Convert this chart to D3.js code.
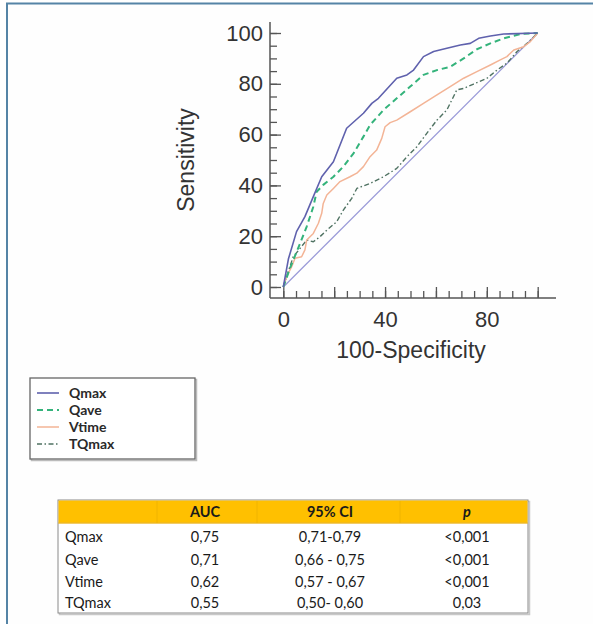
<!DOCTYPE html>
<html>
<head>
<meta charset="utf-8">
<script src="https://cdn.jsdelivr.net/npm/d3@7"></script>
<style>
  html, body { margin: 0; padding: 0; background: #ffffff; }
  svg { display: block; }
</style>
</head>
<body>
<svg id="chart" width="593" height="624"></svg>
<script>
// ---- data ----
const seriesNames = ["Qmax", "Qave", "Vtime", "TQmax"];
const qmax = [[0,0],[2,11],[5.2,21.8],[8.5,27.7],[11.8,35.6],[15.1,43.4],[19.7,49.3],[24.9,62.5],[31.5,68.4],[34.8,72.3],[37.4,74.3],[44.6,82.2],[48.6,83.5],[51.2,85.4],[55.1,90.7],[59.1,92.7],[64.3,94],[69.6,95.3],[73.5,95.9],[76.8,97.9],[81.4,98.8],[86.6,99.6],[100,100]];
const qave = [[0,0],[2.6,7.3],[6.6,17.2],[9.2,23.8],[11.8,31.6],[13.1,37.5],[15.7,40.2],[19.7,43.4],[23.6,47.4],[27.6,52.6],[31.5,59.2],[34.1,63.8],[39.4,69.7],[44.6,74.3],[49.9,78.9],[55.1,83.5],[60.4,85.4],[65.6,86.7],[70.9,90],[76.1,93.6],[81.4,95.9],[86.6,97.9],[93.2,99.6],[100,100]];
const vtime = [[0,0],[1.3,4.1],[3.3,8],[4.6,11.3],[7.2,11.9],[8.5,14.6],[9.2,18.5],[11.8,21.1],[13.8,25.1],[15.1,29],[15.7,32.9],[17.1,36.2],[19.7,38.8],[22.3,41.5],[26.2,43.4],[28.9,44.8],[31.5,47.4],[34.1,51.3],[36.7,53.9],[38.7,58.5],[40,63.1],[42,64.7],[44.6,65.7],[49.9,69],[55.1,72.3],[60.4,75.6],[65.6,78.9],[70.9,82.2],[76.1,84.8],[81.4,87.4],[85.3,89.4],[87.9,90.7],[90.6,93.3],[94.5,94.6],[97.1,96.6],[100,100]];
const tqmax = [[0,0],[1.3,4.1],[3.9,11.9],[6.6,15.2],[9.2,18.5],[11.8,17.8],[14.4,19.8],[17.1,22.4],[21,25.7],[23.6,30.3],[26.9,34.9],[28.9,38.8],[34.1,40.8],[39.4,43.4],[44.6,46.7],[48.6,51.3],[52.5,55.2],[56.4,60.5],[60.4,65.7],[64.3,69.7],[68.2,77.6],[70.9,78.2],[74.8,79.9],[80.1,82.2],[84,85.4],[87.9,88.1],[91.9,92.7],[95.8,95.9],[100,100]];
const diagonal = [[0,0],[100,100]];

const xMinorTicks = d3.range(0, 101, 5);
const xMajorTicks = [0, 20, 40, 60, 80, 100];
const xLabelTicks = [0, 40, 80];
const yMinorTicks = d3.range(0, 101, 5);
const yMajorTicks = [0, 20, 40, 60, 80, 100];

const tableHeader = ["", "AUC", "95% CI", "p"];
const tableLabels = ["Qmax", "Qave", "Vtime", "TQmax"];
const aucValues = ["0,75", "0,71", "0,62", "0,55"];
const ciValues = ["0,71-0,79", "0,66 - 0,75", "0,57 - 0,67", "0,50- 0,60"];
const pValues = ["<0,001", "<0,001", "<0,001", "0,03"];

// ---- styles ----
const styles = {
  Qmax:  { color: "#5f61ad", width: 1.6, dash: null },
  Qave:  { color: "#34b37b", width: 2, dash: "6,4" },
  Vtime: { color: "#f3b496", width: 1.5, dash: null },
  TQmax: { color: "#4f7262", width: 1.4, dash: "5,2.5,1.5,2.5" },
  diag:  { color: "#9a9ad8", width: 1.3, dash: null }
};

const svg = d3.select("#chart");

// outer frame
svg.append("rect").attr("x", 7).attr("y", 3.5).attr("width", 640).attr("height", 680)
  .attr("fill", "#fefefe").attr("stroke", "#5584a6").attr("stroke-width", 2);

// ---- scales ----
const x = d3.scaleLinear().domain([0, 100]).range([283.3, 537.7]);
const y = d3.scaleLinear().domain([0, 100]).range([287, 33]);
const axisX0 = 270, axisY0 = 298;
const axisColor = "#555";
const textColor = "#333";
const axisFont = "'Liberation Sans', Arial, sans-serif";

// axis lines
svg.append("line").attr("x1", axisX0).attr("x2", axisX0).attr("y1", 22).attr("y2", axisY0)
  .attr("stroke", axisColor).attr("stroke-width", 1.5);
svg.append("line").attr("x1", axisX0).attr("x2", 556).attr("y1", axisY0).attr("y2", axisY0)
  .attr("stroke", axisColor).attr("stroke-width", 1.5);

function styleAxis(g) {
  g.select(".domain").remove();
  g.selectAll(".tick line").attr("stroke", axisColor).attr("stroke-width", 1.3);
  g.selectAll(".tick text").attr("fill", textColor).attr("font-family", axisFont).attr("font-size", 22);
}

// y axis
svg.append("g").attr("transform", `translate(${axisX0},0)`)
  .call(d3.axisLeft(y).tickValues(yMinorTicks).tickSize(-7).tickFormat(""))
  .call(styleAxis);
svg.append("g").attr("transform", `translate(${axisX0},0)`)
  .call(d3.axisLeft(y).tickValues(yMajorTicks).tickSize(-11).tickPadding(7).tickFormat(d3.format("d")))
  .call(styleAxis);

// x axis
svg.append("g").attr("transform", `translate(0,${axisY0})`)
  .call(d3.axisBottom(x).tickValues(xMinorTicks).tickSize(-7).tickFormat(""))
  .call(styleAxis);
svg.append("g").attr("transform", `translate(0,${axisY0})`)
  .call(d3.axisBottom(x).tickValues(xMajorTicks).tickSize(-11).tickPadding(13)
    .tickFormat(d => xLabelTicks.includes(d) ? d3.format("d")(d) : ""))
  .call(styleAxis);

// axis titles
svg.append("text").attr("transform", "translate(194,160) rotate(-90)")
  .attr("text-anchor", "middle").attr("font-family", axisFont).attr("font-size", 23)
  .attr("fill", textColor).text("Sensitivity");
svg.append("text").attr("x", 411).attr("y", 358)
  .attr("text-anchor", "middle").attr("font-family", axisFont).attr("font-size", 23)
  .attr("fill", textColor).text("100-Specificity");

// ---- curves ----
const line = d3.line().x(d => x(d[0])).y(d => y(d[1]));
function drawCurve(data, st) {
  svg.append("path").datum(data).attr("d", line).attr("fill", "none")
    .attr("stroke", st.color).attr("stroke-width", st.width)
    .attr("stroke-dasharray", st.dash).attr("stroke-linejoin", "round");
}
drawCurve(diagonal, styles.diag);
drawCurve(tqmax, styles.TQmax);
drawCurve(vtime, styles.Vtime);
drawCurve(qave, styles.Qave);
drawCurve(qmax, styles.Qmax);

// ---- legend ----
const legFont = "Lato, 'Open Sans', sans-serif";
svg.append("rect").attr("x", 31.5).attr("y", 379.5).attr("width", 165).attr("height", 81)
  .attr("fill", "none").attr("stroke", "#bbb").attr("stroke-width", 1.5);
svg.append("rect").attr("x", 30).attr("y", 378).attr("width", 165).attr("height", 81)
  .attr("fill", "#fff").attr("stroke", "#666").attr("stroke-width", 1.3);
const legRows = [393, 410, 427, 444];
seriesNames.forEach((name, i) => {
  const st = styles[name];
  svg.append("line").attr("x1", 37).attr("x2", 59).attr("y1", legRows[i]).attr("y2", legRows[i])
    .attr("stroke", st.color).attr("stroke-width", st.width)
    .attr("stroke-dasharray", st.dash);
  svg.append("text").attr("x", 69).attr("y", legRows[i] + 5)
    .attr("font-family", legFont).attr("font-weight", "bold").attr("font-size", 14)
    .attr("fill", "#2a2a2a").text(name);
});

// ---- table ----
const tblFont = "Lato, 'Open Sans', sans-serif";
const tLeft = 58, tRight = 528, tTop = 500, hdrBottom = 523, tBottom = 613;
svg.append("rect").attr("x", tLeft + 1.5).attr("y", tTop + 1.5).attr("width", tRight - tLeft).attr("height", tBottom - tTop)
  .attr("fill", "none").attr("stroke", "#c8c8c8").attr("stroke-width", 1.5);
svg.append("rect").attr("x", tLeft).attr("y", tTop).attr("width", tRight - tLeft).attr("height", tBottom - tTop)
  .attr("fill", "#fff").attr("stroke", "#8a8a8a").attr("stroke-width", 1);
svg.append("rect").attr("x", tLeft + 0.5).attr("y", tTop + 0.5).attr("width", tRight - tLeft - 1).attr("height", hdrBottom - tTop)
  .attr("fill", "#ffc000");
svg.append("line").attr("x1", tLeft).attr("x2", tRight).attr("y1", hdrBottom).attr("y2", hdrBottom)
  .attr("stroke", "#e0b040").attr("stroke-width", 0.8);
[157, 257, 400].forEach(cx => {
  svg.append("line").attr("x1", cx).attr("x2", cx).attr("y1", tTop + 1).attr("y2", hdrBottom)
    .attr("stroke", "#f0b400").attr("stroke-width", 1);
});
const colCenters = [null, 205, 330, 467];
tableHeader.forEach((h, j) => {
  if (!h) return;
  svg.append("text").attr("x", colCenters[j]).attr("y", 517)
    .attr("text-anchor", "middle").attr("font-family", tblFont).attr("font-weight", "bold")
    .attr("font-style", h === "p" ? "italic" : "normal")
    .attr("font-size", 14.5).attr("fill", "#1a1a1a").text(h);
});
const rowY = [537, 559.5, 581.5, 603];
tableLabels.forEach((lab, i) => {
  const yy = rowY[i] + 5;
  const cells = [[65, "start", lab], [colCenters[1], "middle", aucValues[i]],
                 [colCenters[2], "middle", ciValues[i]], [colCenters[3], "middle", pValues[i]]];
  cells.forEach(([cx, anchor, txt]) => {
    svg.append("text").attr("x", cx).attr("y", yy).attr("text-anchor", anchor)
      .attr("font-family", tblFont).attr("font-size", 14.5).attr("fill", "#1a1a1a").text(txt);
  });
});
</script>
</body>
</html>
